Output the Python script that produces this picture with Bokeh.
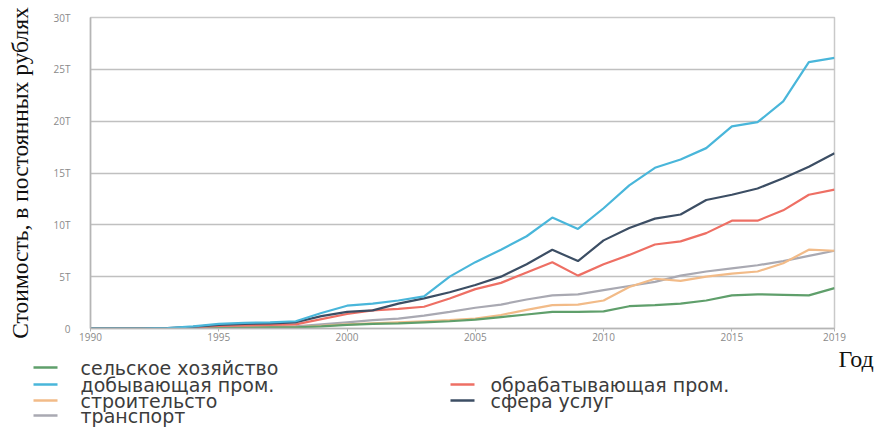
from bokeh.plotting import figure
from bokeh.layouts import column
from bokeh.models import FixedTicker, Range1d, ColumnDataSource
from bokeh.core.properties import value
from bokeh.embed import file_html
from bokeh.resources import INLINE

years = list(range(1990, 2020))

agriculture = [0, 0, 0, 0.01, 0.03, 0.06, 0.08, 0.1, 0.12, 0.2, 0.35, 0.45, 0.5, 0.6, 0.7,
               0.85, 1.1, 1.35, 1.6, 1.6, 1.65, 2.15, 2.25, 2.4, 2.7, 3.2, 3.3, 3.25, 3.2, 3.9]
mining = [0, 0, 0, 0.05, 0.2, 0.45, 0.55, 0.6, 0.7, 1.5, 2.2, 2.4, 2.7, 3.1, 5.0,
          6.4, 7.6, 8.9, 10.7, 9.6, 11.6, 13.8, 15.5, 16.3, 17.4, 19.5, 19.9, 21.9, 25.7, 26.1]
construction = [0, 0, 0, 0.01, 0.03, 0.06, 0.08, 0.1, 0.12, 0.25, 0.4, 0.5, 0.6, 0.7, 0.8,
                0.95, 1.3, 1.8, 2.25, 2.3, 2.7, 4.0, 4.8, 4.6, 5.0, 5.3, 5.5, 6.3, 7.6, 7.5]
transport = [0, 0, 0, 0.01, 0.05, 0.1, 0.12, 0.15, 0.2, 0.4, 0.6, 0.8, 0.95, 1.25, 1.6,
             2.0, 2.3, 2.8, 3.2, 3.3, 3.7, 4.1, 4.5, 5.1, 5.5, 5.8, 6.1, 6.5, 7.0, 7.5]
manufacturing = [0, 0, 0, 0.02, 0.1, 0.25, 0.3, 0.35, 0.4, 0.9, 1.4, 1.75, 1.9, 2.1, 2.9,
                 3.8, 4.4, 5.4, 6.4, 5.1, 6.2, 7.1, 8.1, 8.4, 9.2, 10.4, 10.4, 11.4, 12.9, 13.4]
services = [0, 0, 0, 0.03, 0.15, 0.35, 0.45, 0.5, 0.6, 1.2, 1.6, 1.75, 2.4, 2.9, 3.5,
            4.2, 5.0, 6.2, 7.6, 6.5, 8.5, 9.7, 10.6, 11.0, 12.4, 12.9, 13.5, 14.5, 15.6, 16.9]

names = ["сельское хозяйство", "добывающая пром.", "строительсто", "транспорт",
         "обрабатывающая пром.", "сфера услуг"]
series = [agriculture, mining, construction, transport, manufacturing, services]
colors = ["#5f9f6b", "#49b6da", "#f2bb88", "#a9a9b2", "#ee6f64", "#3c4e64"]
draw_order = [3, 2, 0, 4, 5, 1]

x_ticks = [1990, 1995, 2000, 2005, 2010, 2015, 2019]
y_ticks = [0, 5, 10, 15, 20, 25, 30]
y_tick_labels = ["0", "5T", "10T", "15T", "20T", "25T", "30T"]

y_title = "Стоимость, в постоянных рублях"
x_title = "Год"

W = 891
H_MAIN = 345
H_LEG = 82

p = figure(width=W, height=H_MAIN, output_backend="svg", toolbar_location=None,
           x_range=Range1d(1990, 2019), y_range=Range1d(0, 30),
           min_border_left=90, min_border_right=57, min_border_top=17, min_border_bottom=17)
p.frame_align = False
p.background_fill_color = "white"
p.border_fill_color = "white"
p.outline_line_color = "#c9c9c9"
p.outline_line_width = 1.5

for i in draw_order:
    p.line(years, series[i], line_color=colors[i], line_width=2.2)

p.xgrid.visible = False
p.ygrid.grid_line_color = "#c0c0c0"
p.ygrid.grid_line_width = 1.5

p.xaxis.ticker = FixedTicker(ticks=x_ticks)
p.yaxis.ticker = FixedTicker(ticks=y_ticks)
p.yaxis.major_label_overrides = {t: l for t, l in zip(y_ticks, y_tick_labels)}

for ax in (p.xaxis[0], p.yaxis[0]):
    ax.axis_line_color = "#b5b5b5"
    ax.axis_line_width = 1.5
    ax.minor_tick_line_color = None
    ax.major_label_text_color = "#8a8a8a"
    ax.major_label_text_font = "Open Sans"
    ax.major_label_text_font_size = "10px"

p.yaxis.major_tick_line_color = None
p.yaxis.major_label_standoff = 14
p.yaxis.axis_label = y_title
p.yaxis.axis_label_text_font = "Liberation Serif"
p.yaxis.axis_label_text_font_style = "normal"
p.yaxis.axis_label_text_font_size = "23.5px"
p.yaxis.axis_label_text_color = "#111111"
p.yaxis.axis_label_standoff = 18

p.xaxis.major_tick_line_color = "#b5b5b5"
p.xaxis.major_tick_out = 3
p.xaxis.major_tick_in = 0
p.xaxis.major_label_standoff = 1

# ---- legend strip under the chart (page y from 345 to 427) ----
q = figure(width=W, height=H_LEG, output_backend="svg", toolbar_location=None,
           x_range=Range1d(0, W), y_range=Range1d(H_LEG, 0),
           min_border=0, x_axis_location=None, y_axis_location=None)
q.frame_align = False
q.grid.visible = False
q.outline_line_color = None
q.background_fill_color = "white"
q.border_fill_color = "white"

legend_pos = [(0, 0), (0, 1), (0, 2), (0, 3), (1, 1), (1, 2)]
col_dash_x = [33, 450]
col_text_x = [80, 490]
row_y = [367, 384, 400, 415]
top = H_MAIN
src = ColumnDataSource(dict(
    x0=[col_dash_x[c] for c, r in legend_pos],
    x1=[col_dash_x[c] + 24 for c, r in legend_pos],
    tx=[col_text_x[c] for c, r in legend_pos],
    y=[row_y[r] - top for c, r in legend_pos],
    name=names,
    color=colors,
))
q.segment(x0="x0", y0="y", x1="x1", y1="y", line_color="color", line_width=2.5, source=src)
q.text(x="tx", y="y", text="name", text_font=value("DejaVu Sans"), text_font_size="19px",
       text_color="#3c3c3c", text_baseline="middle", source=src)

q.text(x=[838], y=[358 - top], text=[x_title], text_font=value("Liberation Serif"),
       text_font_size="24px", text_color="#111111", text_baseline="alphabetic")

layout = column(p, q, spacing=0)
open("out.html", "w").write(file_html(layout, INLINE))
